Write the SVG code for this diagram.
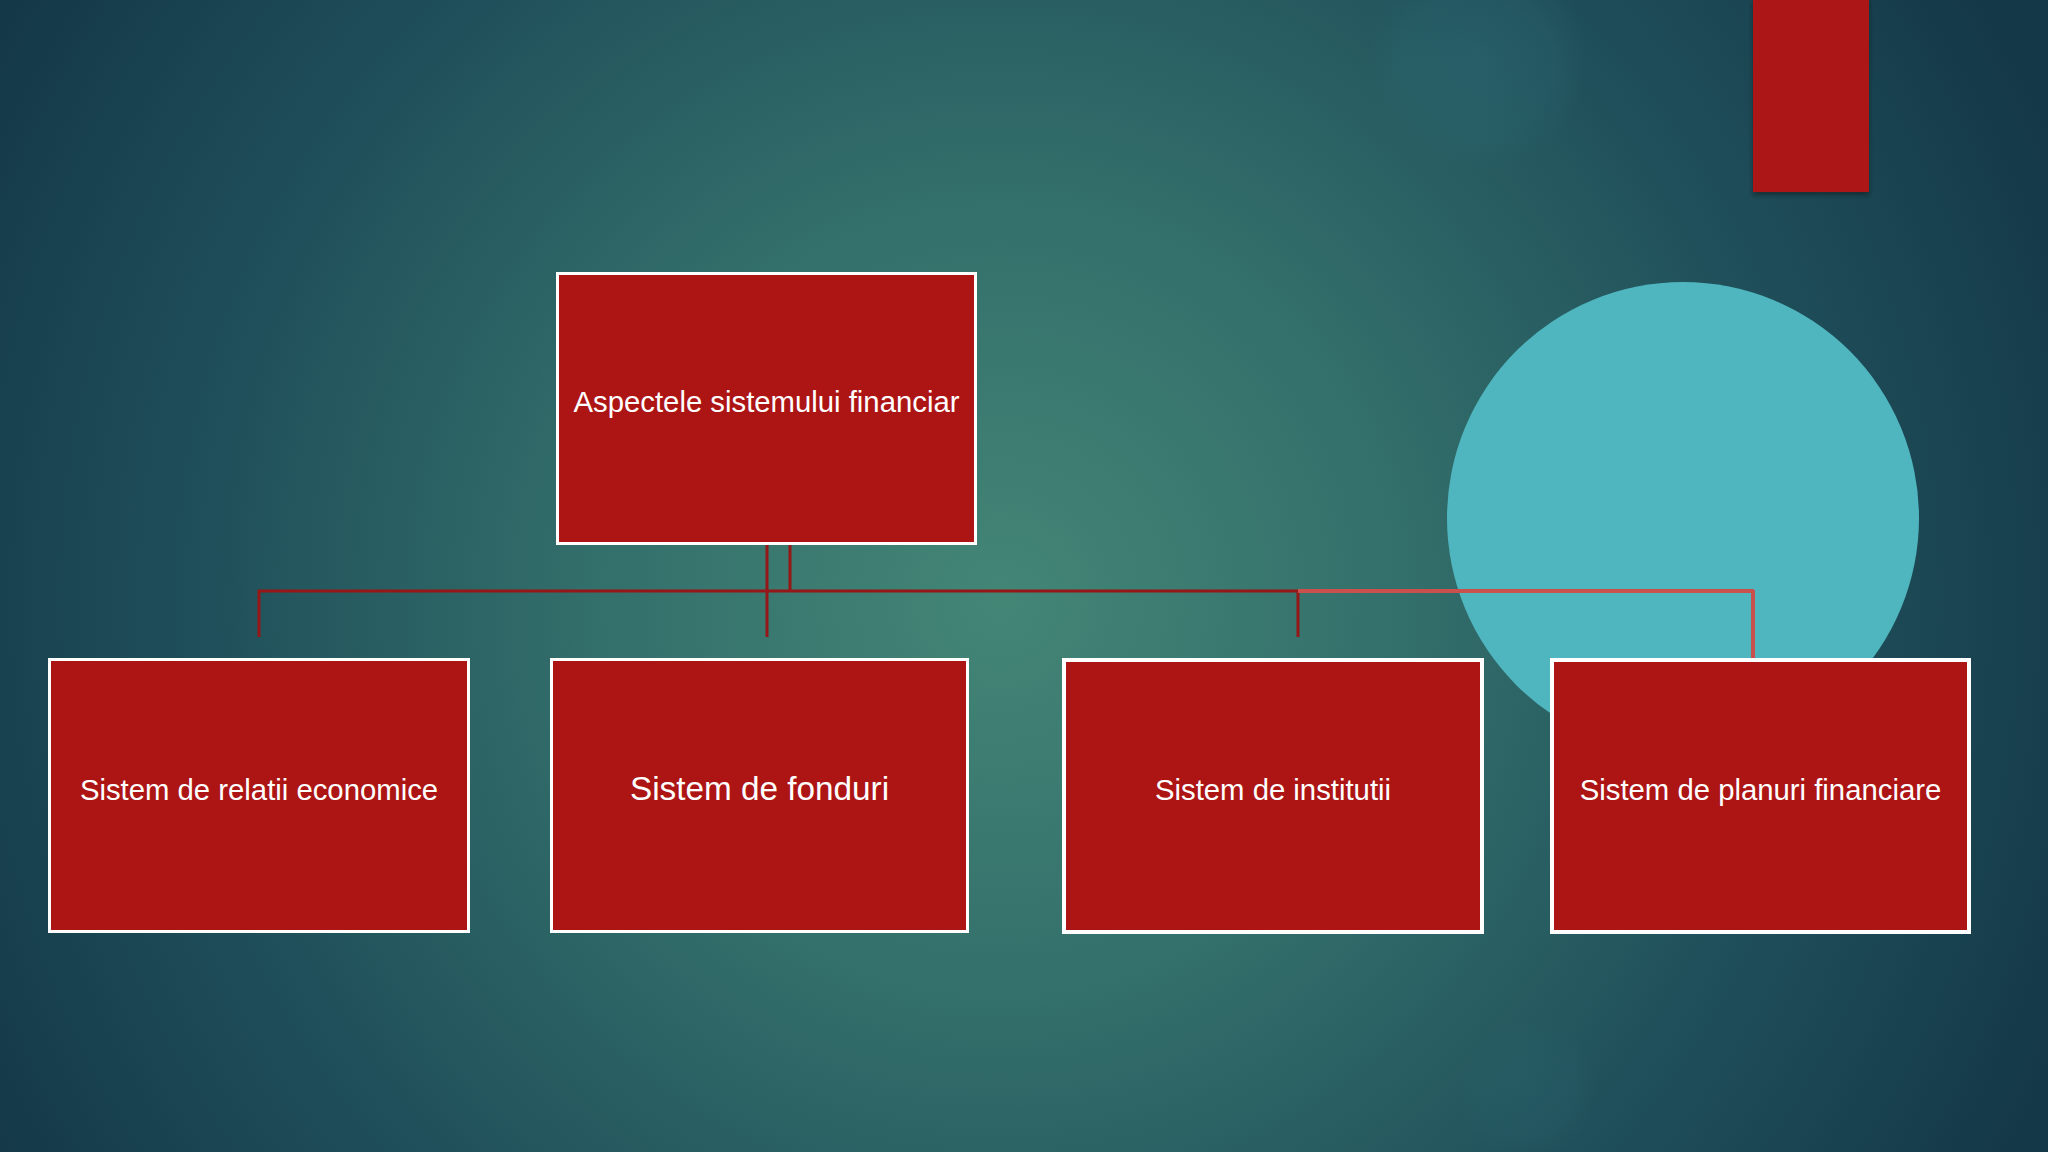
<svg xmlns="http://www.w3.org/2000/svg" width="2048" height="1152" viewBox="0 0 2048 1152">
  <defs>
    <radialGradient id="bg" gradientUnits="userSpaceOnUse" cx="1000" cy="600" r="1150">
      <stop offset="0" stop-color="#438676"/>
      <stop offset="0.35" stop-color="#336f6b"/>
      <stop offset="0.7" stop-color="#1f4f5a"/>
      <stop offset="1" stop-color="#143847"/>
    </radialGradient>
    <radialGradient id="bokeh" cx="0.5" cy="0.5" r="0.5">
      <stop offset="0" stop-color="#2f6d78" stop-opacity="0.35"/>
      <stop offset="0.7" stop-color="#2f6d78" stop-opacity="0.2"/>
      <stop offset="1" stop-color="#2f6d78" stop-opacity="0"/>
    </radialGradient>
    <filter id="shadow" x="-20%" y="-20%" width="140%" height="140%">
      <feDropShadow dx="0" dy="3" stdDeviation="2" flood-color="#0a1a22" flood-opacity="0.6"/>
    </filter>
  </defs>
  <style>
    .box { fill: #ad1515; stroke: #ffffff; }
    .lbl { fill: #ffffff; font-family: "Liberation Sans", Arial, sans-serif; text-anchor: middle; }
    .conn { fill: none; stroke: #951717; stroke-width: 3; }
    .conn2 { fill: none; stroke: #c9504d; stroke-width: 4; stroke-linejoin: round; }
  </style>

  <rect x="0" y="0" width="2048" height="1152" fill="url(#bg)"/>
  <circle cx="1478" cy="62" r="110" fill="url(#bokeh)"/>
  <circle cx="1528" cy="1090" r="70" fill="url(#bokeh)" opacity="0.5"/>

  <rect id="accent-bar" x="1753" y="0" width="116" height="192" fill="#ad1515" filter="url(#shadow)"/>
  <circle id="accent-circle" cx="1683" cy="518" r="236" fill="#4fb6bf"/>

  <g id="connectors">
    <line class="conn" x1="767" y1="545" x2="767" y2="637"/>
    <line class="conn" x1="790" y1="545" x2="790" y2="591"/>
    <polyline class="conn" points="259,637 259,591 1298,591"/>
    <line class="conn" x1="1298" y1="591" x2="1298" y2="637"/>
    <polyline class="conn2" points="1298,591 1753,591 1753,658"/>
  </g>

  <g id="node-root">
    <rect class="box" x="557.5" y="273.5" width="418" height="270" stroke-width="3"/>
    <text class="lbl" x="766.5" y="412" font-size="29.3">Aspectele sistemului financiar</text>
  </g>
  <g id="node-relatii">
    <rect class="box" x="49.5" y="659.5" width="419" height="272" stroke-width="3"/>
    <text class="lbl" x="259" y="800" font-size="29.3">Sistem de relatii economice</text>
  </g>
  <g id="node-fonduri">
    <rect class="box" x="551.5" y="659.5" width="416" height="272" stroke-width="3"/>
    <text class="lbl" x="759.5" y="800" font-size="33.3">Sistem de fonduri</text>
  </g>
  <g id="node-institutii">
    <rect class="box" x="1064" y="660" width="418" height="272" stroke-width="4"/>
    <text class="lbl" x="1273" y="800" font-size="29.3">Sistem de institutii</text>
  </g>
  <g id="node-planuri">
    <rect class="box" x="1552" y="660" width="417" height="272" stroke-width="4"/>
    <text class="lbl" x="1760.5" y="800" font-size="29.3">Sistem de planuri financiare</text>
  </g>
</svg>
